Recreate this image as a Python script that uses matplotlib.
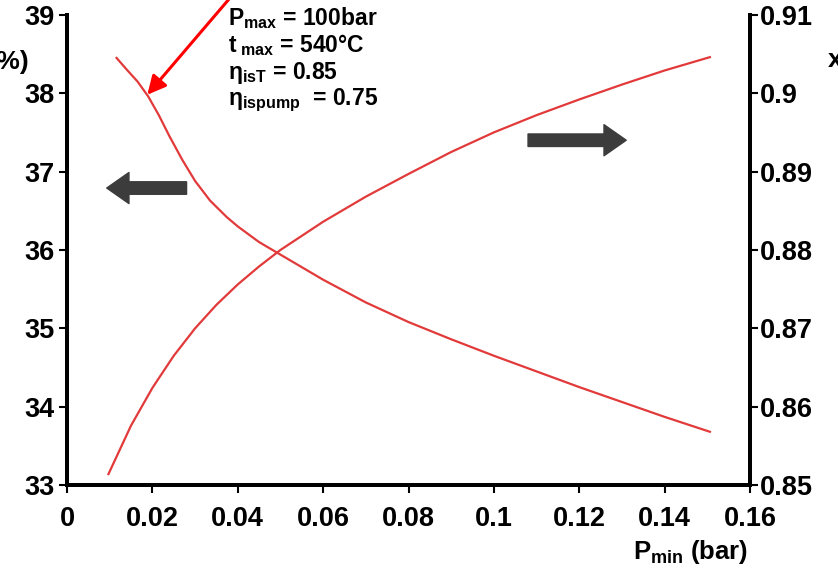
import matplotlib.pyplot as plt

plt.rcParams['font.family'] = ['Liberation Sans', 'DejaVu Sans']
plt.rcParams['font.weight'] = 'bold'
plt.rcParams['mathtext.fontset'] = 'custom'
plt.rcParams['mathtext.rm'] = 'Liberation Sans:bold'
plt.rcParams['mathtext.bf'] = 'Liberation Sans:bold'
plt.rcParams['mathtext.it'] = 'Liberation Sans:bold'

# thermal efficiency (%) vs condenser pressure (left axis)
p_eff = [0.0116, 0.014, 0.0165, 0.019, 0.0215, 0.024, 0.027, 0.030, 0.0335,
         0.0374, 0.040, 0.045, 0.05, 0.06, 0.07, 0.08, 0.09, 0.10, 0.11, 0.12,
         0.13, 0.14, 0.1506]
eff = [38.45, 38.30, 38.15, 37.96, 37.72, 37.45, 37.15, 36.88, 36.63,
       36.42, 36.30, 36.10, 35.94, 35.62, 35.33, 35.08, 34.86, 34.65, 34.45, 34.25,
       34.06, 33.87, 33.68]

# steam quality at turbine exit (right axis)
p_x = [0.0097, 0.015, 0.020, 0.025, 0.030, 0.035, 0.040, 0.045, 0.050, 0.06,
       0.07, 0.08, 0.09, 0.10, 0.11, 0.12, 0.13, 0.14, 0.1506]
quality = [0.8514, 0.8576, 0.8624, 0.8665, 0.8700, 0.8730, 0.8756, 0.8779, 0.8800,
           0.8836, 0.8868, 0.8897, 0.8925, 0.8950, 0.8972, 0.8992, 0.9011, 0.9029,
           0.9046]

x_ticks = [0, 0.02, 0.04, 0.06, 0.08, 0.1, 0.12, 0.14, 0.16]
x_labels = ['0', '0.02', '0.04', '0.06', '0.08', '0.1', '0.12', '0.14', '0.16']
y_ticks = [33, 34, 35, 36, 37, 38, 39]
y2_ticks = [0.85, 0.86, 0.87, 0.88, 0.89, 0.9, 0.91]
y2_labels = ['0.85', '0.86', '0.87', '0.88', '0.89', '0.9', '0.91']

fig = plt.figure(figsize=(8.38, 5.70), dpi=100)
ax = fig.add_axes([0.080, 0.149, 0.815, 0.825])
ax2 = ax.twinx()

red = '#e23a3a'
ax.plot(p_eff, eff, color=red, lw=1.6)
ax2.plot(p_x, quality, color=red, lw=1.6)

ax.set_xlim(0, 0.16)
ax.set_ylim(33, 39)
ax2.set_ylim(0.85, 0.91)
ax.set_xticks(x_ticks)
ax.set_xticklabels(x_labels)
ax.set_yticks(y_ticks)
ax2.set_yticks(y2_ticks)
ax2.set_yticklabels(y2_labels)

for a in (ax, ax2):
    a.spines['top'].set_visible(False)
    for s in ('left', 'right', 'bottom'):
        a.spines[s].set_linewidth(2.8)
ax.tick_params(axis='both', labelsize=19.5, width=1.5, length=6, pad=3)
ax.tick_params(axis='x', pad=9)
ax2.tick_params(axis='y', labelsize=19.5, width=1.5, length=6, pad=1)

# axis titles (clipped at the figure edges like the scan)
fig.text(29 / 838, 1 - 62 / 570, 'η (%)', ha='right', va='center', fontsize=19)
fig.text(828 / 838, 1 - 60 / 570, 'x', ha='left', va='center', fontsize=19)
fig.text(691 / 838, 1 - 552 / 570, r'P$_{\mathrm{min}}$ (bar)', ha='center',
         va='center', fontsize=18.5)

# operating conditions
lines = [r'P$_{\mathrm{max}}$ = 100bar',
         r't$_{\mathrm{\ max}}$ = 540°C',
         r'η$_{\mathrm{isT}}$ = 0.85',
         r'η$_{\mathrm{ispump}}$  = 0.75']
for i, t in enumerate(lines):
    fig.text(228 / 838, 1 - (18 + 27.5 * i) / 570, t, ha='left', va='center',
             fontsize=16.5)

# red pointer to the efficiency curve
ax.annotate('', xy=(0.0188, 37.98), xytext=(0.0395, 39.3),
            annotation_clip=False,
            arrowprops=dict(arrowstyle='-|>', color='#ff0000', lw=2.2,
                            mutation_scale=28, shrinkA=0, shrinkB=0))

# gray block arrows pointing to each axis
grey = '#3c3c3c'
block = 'simple,head_length=0.8,head_width=1.12,tail_width=0.45'
ax.annotate('', xy=(0.0093, 36.79), xytext=(0.0280, 36.79),
            arrowprops=dict(arrowstyle=block, color=grey, mutation_scale=20,
                            shrinkA=0, shrinkB=0))
ax.annotate('', xy=(0.1310, 37.40), xytext=(0.1080, 37.40),
            arrowprops=dict(arrowstyle=block, color=grey, mutation_scale=20,
                            shrinkA=0, shrinkB=0))

plt.savefig('out.png', dpi=100)
